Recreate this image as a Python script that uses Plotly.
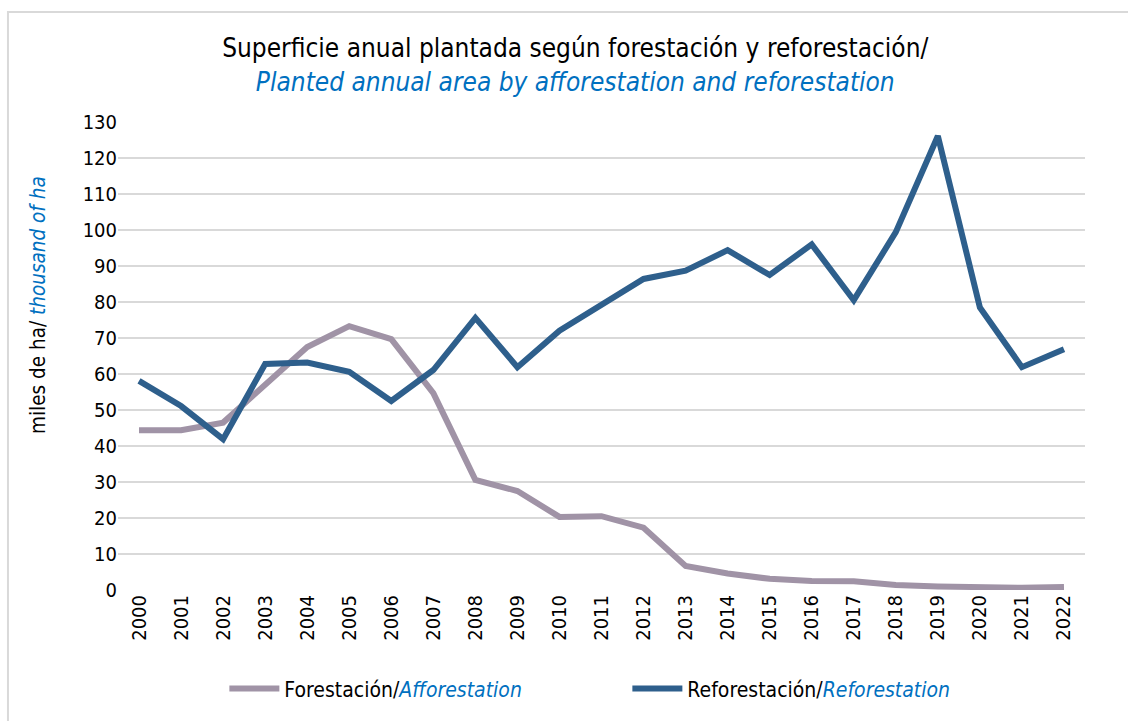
import plotly.graph_objects as go

years = [str(y) for y in range(2000, 2023)]
forestacion = [44.4, 44.4, 46.5, 57.0, 67.5, 73.3, 69.7, 54.7, 30.6, 27.5, 20.3, 20.5, 17.3, 6.7, 4.6, 3.1, 2.5, 2.4, 1.4, 1.0, 0.6, 0.6, 0.8]
reforestacion = [58.1, 51.1, 41.9, 62.8, 63.2, 60.6, 52.5, 61.1, 75.6, 61.9, 72.0, 79.4, 86.4, 88.7, 94.4, 87.5, 96.0, 80.5, 99.4, 126.1, 78.5, 61.9, 66.9]
yticks = list(range(0, 131, 10))

FONT = "Tahoma, DejaVu Sans Condensed, DejaVu Sans, sans-serif"
BLUE = "#0070C0"

fig = go.Figure()
fig.add_trace(go.Scatter(
    x=years, y=forestacion, mode="lines",
    name=f"Forestación/<i><span style='color:{BLUE}'>Afforestation</span></i>",
    line=dict(color="#A093A6", width=6),
))
fig.add_trace(go.Scatter(
    x=years, y=reforestacion, mode="lines",
    name=f"Reforestación/<i><span style='color:{BLUE}'>Reforestation</span></i>",
    line=dict(color="#2E5F8C", width=6),
))

fig.update_layout(
    width=1128, height=721,
    paper_bgcolor="white", plot_bgcolor="white",
    font=dict(family=FONT, size=20, color="#000000"),
    margin=dict(l=118, r=43, t=122, b=131, autoexpand=False),
    title=dict(
        text=f"Superficie anual plantada según forestación y reforestación/<br><i><span style='color:{BLUE}'>Planted annual area by afforestation and reforestation</span></i>",
        x=0.51, xanchor="center", xref="container", yref="container", y=0.921, yanchor="top",
        font=dict(family=FONT, size=26, color="#000000"),
    ),
    xaxis=dict(
        type="category", tickangle=-90, showgrid=False, showline=False,
        ticks="", tickfont=dict(size=20), range=[-0.5, 22.5], automargin=False,
    ),
    yaxis=dict(
        range=[0, 130], tickvals=yticks, showgrid=True, gridcolor="#D9D9D9",
        gridwidth=1.5, zeroline=False, showline=False, ticks="",
        tickfont=dict(size=20), automargin=False,
    ),
    legend=dict(
        orientation="h", x=0.110, xanchor="left", y=-0.211, yanchor="middle",
        yref="paper", font=dict(size=21), entrywidth=338, itemwidth=50,
    ),
    showlegend=True,
)
fig.add_annotation(
    text=f"miles de ha/ <i><span style='color:{BLUE}'>thousand of ha</span></i>",
    xref="paper", yref="paper", x=-0.0827, y=0.609, xanchor="center", yanchor="middle",
    textangle=-90, showarrow=False, font=dict(family=FONT, size=20.5, color="#000000"),
)
fig.add_shape(type="rect", xref="paper", yref="paper", x0=-0.1138, x1=1.2, y0=-0.5, y1=1.235,
              line=dict(color="#D9D9D9", width=2), fillcolor="rgba(0,0,0,0)", layer="below")
fig.write_html("out.html", config={"displayModeBar": False},
               post_script="document.body.style.margin='0';")
